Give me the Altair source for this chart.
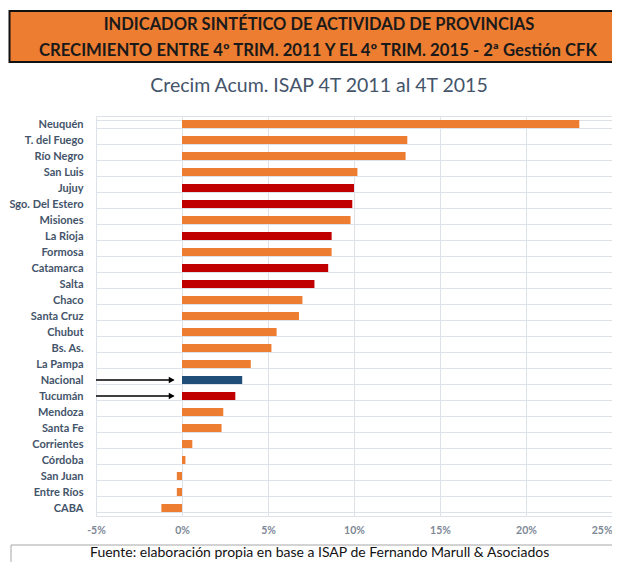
import altair as alt
import pandas as pd

provinces = ["Neuquén", "T. del Fuego", "Río Negro", "San Luis", "Jujuy", "Sgo. Del Estero",
             "Misiones", "La Rioja", "Formosa", "Catamarca", "Salta", "Chaco", "Santa Cruz",
             "Chubut", "Bs. As.", "La Pampa", "Nacional", "Tucumán", "Mendoza", "Santa Fe",
             "Corrientes", "Córdoba", "San Juan", "Entre Ríos", "CABA"]
growth = [23.1, 13.1, 13.0, 10.2, 10.0, 9.9, 9.8, 8.7, 8.7, 8.5, 7.7, 7.0, 6.8,
          5.5, 5.2, 4.0, 3.5, 3.1, 2.4, 2.3, 0.6, 0.2, -0.3, -0.3, -1.2]
group = ["o", "o", "o", "o", "r", "r", "o", "r", "o", "r", "r", "o", "o",
         "o", "o", "o", "b", "r", "o", "o", "o", "o", "o", "o", "o"]
x_ticks = [-5, 0, 5, 10, 15, 20, 25]

arrow_rows = ["Nacional", "Tucumán"]
arrow_start = [-5, -5]
arrow_end = [-0.5, -0.5]
arrow_head = [-0.6, -0.6]

header_1 = "INDICADOR SINTÉTICO DE ACTIVIDAD DE PROVINCIAS"
header_2 = "CRECIMIENTO ENTRE 4º TRIM. 2011 Y EL 4º TRIM. 2015 - 2ª Gestión CFK"
chart_title = "Crecim Acum. ISAP 4T 2011 al 4T 2015"
footer = "Fuente: elaboración propia en base a ISAP de Fernando Marull & Asociados"

df = pd.DataFrame({"prov": provinces, "val": growth, "grp": group})
arr = pd.DataFrame({"prov": arrow_rows, "x0": arrow_start, "x1": arrow_end, "xh": arrow_head})
one = pd.DataFrame({"k": [0]})

FONT = "Lato"
ycat = alt.Y("prov:N", sort=provinces,
             scale=alt.Scale(paddingInner=0.5, paddingOuter=0.25),
             axis=alt.Axis(title=None, ticks=False, domain=False, grid=True, tickBand="extent",
                           gridColor="#DDE1E8", gridWidth=1, labelPadding=13,
                           labelFont=FONT, labelFontSize=11, labelFontWeight="bold",
                           labelColor="#44546A"))
xscale = alt.Scale(domain=[-5, 25], nice=False)

bars = alt.Chart(df).mark_bar().encode(
    x=alt.X("val:Q", scale=xscale,
            axis=alt.Axis(title=None, values=x_ticks, ticks=False, domain=False, grid=True,
                          gridColor="#DDE1E8", gridWidth=1, labelPadding=9, labelFlush=False,
                          labelAlign={"condition": {"test": "datum.value >= 25", "value": "right"},
                                      "value": "center"},
                          labelExpr="datum.value + '%'", labelFont=FONT, labelFontSize=10.5,
                          labelFontWeight="bold", labelColor="#7D8796")),
    x2=alt.datum(0),
    y=ycat,
    color=alt.Color("grp:N", legend=None,
                    scale=alt.Scale(domain=["o", "r", "b"],
                                    range=["#ED7D31", "#C00000", "#1F4E79"])),
)

arrows = alt.Chart(arr).mark_rule(color="black", strokeWidth=1.3).encode(
    x="x0:Q", x2="x1:Q", y=alt.Y("prov:N", sort=provinces, bandPosition=0.5)
)
heads = alt.Chart(arr).mark_point(shape="triangle-right", filled=True, color="black",
                                  size=45, opacity=1).encode(
    x="xh:Q", y=alt.Y("prov:N", sort=provinces)
)

header_box = alt.Chart(one).mark_rect(fill="#ED7D31", stroke="#111111", strokeWidth=2).encode(
    x=alt.value(-86.5), x2=alt.value(560), y=alt.value(-105), y2=alt.value(-54)
)
h1 = alt.Chart(one).mark_text(font=FONT, fontSize=16.5, fontWeight="bold", color="#1A1A1A",
                              align="center", baseline="middle").encode(
    x=alt.value(223), y=alt.value(-91), text=alt.value(header_1))
h2 = alt.Chart(one).mark_text(font=FONT, fontSize=16.7, fontWeight="bold", color="#1A1A1A",
                              align="center", baseline="middle").encode(
    x=alt.value(222), y=alt.value(-65), text=alt.value(header_2))
title = alt.Chart(one).mark_text(font=FONT, fontSize=19.5, color="#44546A",
                                 align="center", baseline="middle").encode(
    x=alt.value(223), y=alt.value(-30), text=alt.value(chart_title))
foot_line = alt.Chart(one).mark_rule(color="#A6A6A6", strokeWidth=1).encode(
    x=alt.value(-85), x2=alt.value(560), y=alt.value(429))
foot_vline = alt.Chart(one).mark_rule(color="#A6A6A6", strokeWidth=1).encode(
    x=alt.value(-85), y=alt.value(429), y2=alt.value(460))
foot_text = alt.Chart(one).mark_text(font=FONT, fontSize=14, color="#111111",
                                     align="left", baseline="bottom").encode(
    x=alt.value(-6), y=alt.value(444), text=alt.value(footer))

chart = alt.layer(bars, arrows, heads, header_box, h1, h2, title,
                  foot_line, foot_vline, foot_text).properties(
    width=516, height=400,
    autosize=alt.AutoSizeParams(type="none"),
    padding={"left": 88, "top": 108, "right": 0, "bottom": 46},
).configure_view(stroke="#DDE1E8", strokeWidth=1)

chart.save("out.html", embed_options={"renderer": "svg", "actions": False})
